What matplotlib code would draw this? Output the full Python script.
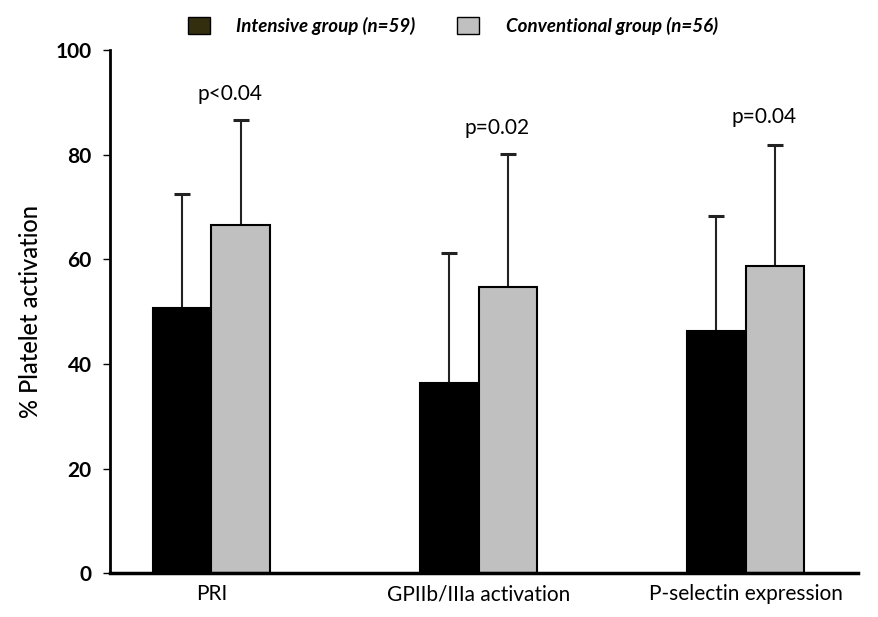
import numpy as np
import matplotlib.pyplot as plt
from matplotlib.patches import Patch

plt.rcParams['font.family'] = ['Lato', 'DejaVu Sans']

categories = ["PRI", "GPIIb/IIIa activation", "P-selectin expression"]
intensive_mean = [50.7, 36.3, 46.3]
intensive_sd = [21.8, 24.9, 21.9]
conventional_mean = [66.5, 54.7, 58.7]
conventional_sd = [20.1, 25.4, 23.1]
p_labels = ["p<0.04", "p=0.02", "p=0.04"]
p_heights = [91.5, 85.0, 87.2]

x = np.arange(len(categories))
w = 0.22

fig = plt.figure(figsize=(8.79, 6.17), dpi=100)
ax = fig.add_axes([0.125, 0.071, 0.851, 0.848])

groups = [(x - w / 2, intensive_mean, intensive_sd, 'black'),
          (x + w / 2, conventional_mean, conventional_sd, '#c0c0c0')]
for xpos, mean, sd, col in groups:
    mean = np.asarray(mean)
    sd = np.asarray(sd)
    ax.bar(xpos, mean, w, color=col, edgecolor='black', linewidth=1.5, zorder=2)
    # upper whisker only, cap at the top
    ax.vlines(xpos, mean, mean + sd, color='#222222', linewidth=1.5, zorder=1)
    ax.plot(xpos, mean + sd, ls='none', marker='_', markersize=11,
            markeredgewidth=2.2, color='#222222', zorder=1)

for xi, lab, h in zip(x, p_labels, p_heights):
    ax.text(xi + 0.07, h, lab, ha='center', va='center', fontsize=15)

ax.set_xlim(-0.38, 2.42)
ax.set_ylim(0, 100)
ax.set_yticks([0, 20, 40, 60, 80, 100])
ax.tick_params(axis='y', direction='out', length=5, width=1, labelsize=15, pad=8)
for t in ax.get_yticklabels():
    t.set_fontweight('bold')
ax.set_xticks(x)
ax.set_xticklabels(categories, fontsize=15)
ax.tick_params(axis='x', length=0, pad=8)
ax.set_ylabel("% Platelet activation", fontsize=17, fontweight='medium', labelpad=10)

ax.spines['top'].set_visible(False)
ax.spines['right'].set_visible(False)
ax.spines['left'].set_linewidth(2)
ax.spines['bottom'].set_linewidth(2.5)

handles = [Patch(facecolor='#332e0e', edgecolor='black', label='Intensive group (n=59)'),
           Patch(facecolor='#c0c0c0', edgecolor='black', label='Conventional group (n=56)')]
fig.legend(handles=handles, loc='center', bbox_to_anchor=(0.515, 0.958), ncol=2,
           frameon=False, prop={'style': 'italic', 'weight': 'bold', 'size': 13.5},
           handlelength=1.2, handleheight=1.0, handletextpad=1.4, columnspacing=2.2)

fig.savefig("out.png", dpi=100)
